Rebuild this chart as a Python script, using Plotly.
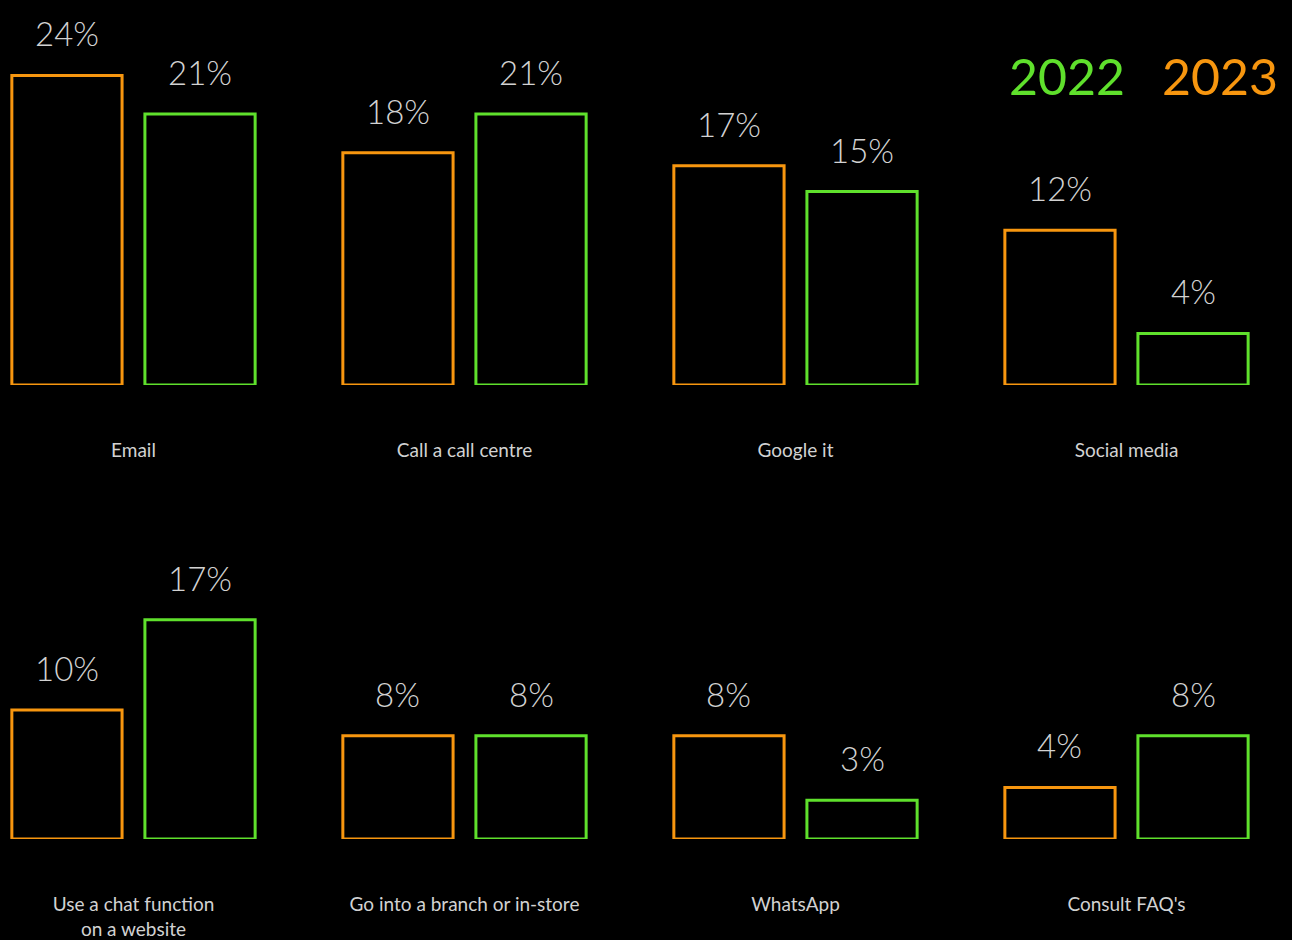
import numpy as np
import plotly.graph_objects as go

# Channels used, two rows of four panels
categories_top = ["Email", "Call a call centre", "Google it", "Social media"]
categories_bottom = ["Use a chat function<br>on a website", "Go into a branch or in-store",
                     "WhatsApp", "Consult FAQ's"]

# Share of respondents (%) per channel
values_2023_top = [24, 18, 17, 12]
values_2022_top = [21, 21, 15, 4]
values_2023_bottom = [10, 8, 8, 4]
values_2022_bottom = [17, 8, 3, 8]

ORANGE = "#F7960F"
GREEN = "#5FE02C"
LABEL = "#D2D2D2"
FONT = "Lato"

W, H = 1292, 940
PX_PER_PCT = 12.9
BAR_W = 0.333
DX = 0.201

fig = go.Figure()

rows = [
    dict(cats=categories_top, v23=values_2023_top, v22=values_2022_top,
         xa="x", ya="y", base_px=385, top_px=0),
    dict(cats=categories_bottom, v23=values_2023_bottom, v22=values_2022_bottom,
         xa="x2", ya="y2", base_px=839, top_px=470),
]

for r in rows:
    pos = np.arange(len(r["cats"]))
    for vals, col, shift, name in [(r["v23"], ORANGE, -DX, "2023"), (r["v22"], GREEN, DX, "2022")]:
        xs = pos + shift
        fig.add_trace(go.Bar(
            x=xs, y=vals, width=BAR_W, name=name, showlegend=False,
            marker=dict(color="rgba(0,0,0,0)", line=dict(color=col, width=3)),
            xaxis=r["xa"], yaxis=r["ya"], hoverinfo="skip",
        ))
        for xv, v in zip(xs, vals):
            fig.add_annotation(
                x=xv, y=v, xref=r["xa"], yref=r["ya"], text=f"{v}%",
                showarrow=False, yanchor="bottom", xanchor="center", yshift=20,
                font=dict(family=FONT, size=33, color=LABEL, weight=300),
            )

def y_domain(base_px, top_px):
    return [1 - base_px / H, 1 - top_px / H]

x_common = dict(range=[-0.4033, 3.5], showgrid=False, zeroline=False, showline=False,
                ticks="", tickmode="array", tickvals=list(range(4)),
                tickfont=dict(family=FONT, size=19, color=LABEL, weight=400),
                ticklabelstandoff=52)
y_common = dict(showgrid=False, zeroline=False, showline=False, showticklabels=False)

r0, r1 = rows
fig.update_layout(
    xaxis=dict(**x_common, ticktext=r0["cats"], anchor="y", domain=[0, 1]),
    yaxis=dict(**y_common, domain=y_domain(r0["base_px"], r0["top_px"]),
               range=[0, (r0["base_px"] - r0["top_px"]) / PX_PER_PCT]),
    xaxis2=dict(**x_common, ticktext=r1["cats"], anchor="y2", domain=[0, 1]),
    yaxis2=dict(**y_common, domain=y_domain(r1["base_px"], r1["top_px"]),
                range=[0, (r1["base_px"] - r1["top_px"]) / PX_PER_PCT]),
    barmode="overlay",
    width=W, height=H,
    margin=dict(l=0, r=0, t=0, b=0),
    paper_bgcolor="#000000", plot_bgcolor="#000000",
    showlegend=False,
)

# Year key in the top-right corner
for label, col, xc in [("2022", GREEN, 1067), ("2023", ORANGE, 1220)]:
    fig.add_annotation(x=xc / W, y=1 - 76 / H, xref="paper", yref="paper", text=label,
                       showarrow=False, xanchor="center", yanchor="middle",
                       font=dict(family=FONT, size=50, color=col, weight=400))

fig.write_html("out.html")
